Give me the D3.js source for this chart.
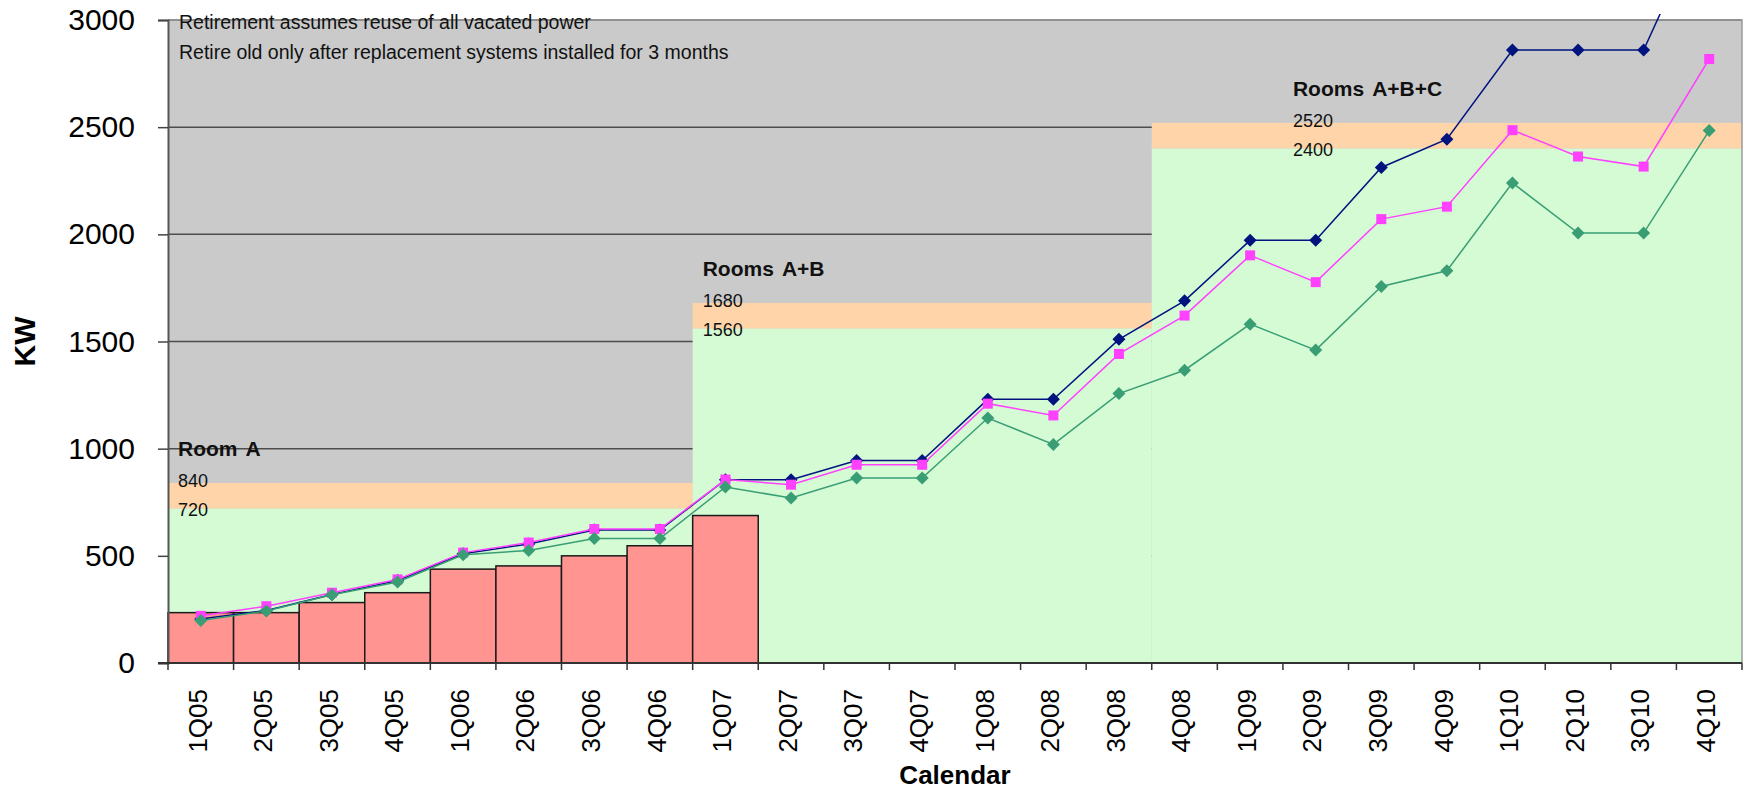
<!DOCTYPE html>
<html>
<head>
<meta charset="utf-8">
<script src="https://cdn.jsdelivr.net/npm/d3@7/dist/d3.min.js"></script>
<style>
  html, body { margin: 0; padding: 0; background: #ffffff; }
  svg { display: block; font-family: "Liberation Sans", Arial, sans-serif; }
</style>
</head>
<body>
<svg id="chart" width="1747" height="791"></svg>
<script>
// Quarterly calendar
const categories = ["1Q05","2Q05","3Q05","4Q05","1Q06","2Q06","3Q06","4Q06",
  "1Q07","2Q07","3Q07","4Q07","1Q08","2Q08","3Q08","4Q08",
  "1Q09","2Q09","3Q09","4Q09","1Q10","2Q10","3Q10","4Q10"];

// Installed load (KW), bars
const installedLoad = [235, 235, 282, 328, 438, 453, 500, 547, 688];

// Projected demand (KW): high, mid, low
const projectionHigh = [205, 245, 320, 385, 510, 555, 620, 620, 855, 855, 945, 945,
  1230, 1230, 1510, 1690, 1972, 1972, 2312, 2444, 2860, 2860, 2860, 3530];
const projectionMid = [220, 265, 328, 390, 515, 562, 625, 625, 856, 832, 925, 925,
  1210, 1155, 1442, 1621, 1902, 1777, 2071, 2129, 2486, 2363, 2316, 2818];
const projectionLow = [198, 243, 318, 378, 505, 525, 581, 581, 821, 770, 863, 863,
  1143, 1020, 1257, 1366, 1581, 1460, 1757, 1830, 2240, 2006, 2006, 2484];

// Room capacity phases (KW)
const roomNames = ["Room A", "Rooms A+B", "Rooms A+B+C"];
const roomFirstQuarter = ["1Q05", "1Q07", "4Q08"];
const roomLastQuarter = ["4Q06", "3Q08", "4Q10"];
const roomLowerLimit = [720, 1560, 2400];
const roomUpperLimit = [840, 1680, 2520];

// Y axis ticks
const yTicks = [0, 500, 1000, 1500, 2000, 2500, 3000];

const notes = [
  "Retirement assumes reuse of all vacated power",
  "Retire old only after replacement systems installed for 3 months"
];

// ---------------------------------------------------------------
const svg = d3.select("#chart");
const plotLeft = 168, plotRight = 1742, plotTop = 20, plotBottom = 663;

const x = d3.scaleBand().domain(categories).range([plotLeft, plotRight]).padding(0);
const y = d3.scaleLinear().domain([0, 3000]).range([plotBottom, plotTop]);
const cx = c => x(c) + x.bandwidth() / 2;

// plot background
svg.append("rect")
  .attr("x", plotLeft).attr("y", plotTop)
  .attr("width", plotRight - plotLeft).attr("height", plotBottom - plotTop)
  .attr("fill", "#cacaca");

// horizontal gridlines
svg.append("g").selectAll("line").data(yTicks.filter(t => t > 0)).join("line")
  .attr("x1", plotLeft).attr("x2", plotRight)
  .attr("y1", d => y(d)).attr("y2", d => y(d))
  .attr("stroke", "#4d4d4d").attr("stroke-width", 1.5);

// capacity bands: spare headroom (peach) and usable capacity (green)
const rooms = roomNames.map((name, i) => ({
  name,
  x0: x(roomFirstQuarter[i]),
  x1: x(roomLastQuarter[i]) + x.bandwidth(),
  lo: roomLowerLimit[i],
  hi: roomUpperLimit[i]
}));

const bands = svg.append("g");
bands.selectAll("rect.peach").data(rooms).join("rect")
  .attr("class", "peach")
  .attr("x", d => d.x0).attr("width", d => d.x1 - d.x0)
  .attr("y", d => y(d.hi)).attr("height", d => y(d.lo) - y(d.hi))
  .attr("fill", "#ffd4a8");
bands.selectAll("rect.green").data(rooms).join("rect")
  .attr("class", "green")
  .attr("x", d => d.x0).attr("width", d => d.x1 - d.x0)
  .attr("y", d => y(d.lo)).attr("height", d => y(0) - y(d.lo))
  .attr("fill", "#d4fbd4");

// plot border (top and right)
svg.append("path")
  .attr("d", `M${plotLeft},${plotTop}H${plotRight}V${plotBottom}`)
  .attr("fill", "none").attr("stroke", "#9a9a9a").attr("stroke-width", 1.5);

// installed load bars
svg.append("g").selectAll("rect").data(installedLoad).join("rect")
  .attr("x", (d, i) => x(categories[i]))
  .attr("width", x.bandwidth())
  .attr("y", d => y(d))
  .attr("height", d => y(0) - y(d))
  .attr("fill", "#ff9490")
  .attr("stroke", "#1a1a1a").attr("stroke-width", 1.5);

// notes at top of plot
svg.append("g").selectAll("text").data(notes).join("text")
  .attr("x", 179).attr("y", (d, i) => 29 + i * 30)
  .attr("font-size", 19.5).attr("fill", "#111")
  .text(d => d);

// room annotations
const labelQuarter = ["1Q05", "1Q07", "2Q09"];
const ann = svg.append("g");
rooms.forEach((r, i) => {
  const tx = x(labelQuarter[i]) + 10;
  ann.append("text").attr("x", tx).attr("y", y(r.hi) - 27)
    .attr("font-size", 21).attr("font-weight", "bold").attr("fill", "#111")
    .attr("word-spacing", 3)
    .text(r.name);
  ann.append("text").attr("x", tx).attr("y", y(r.hi) + 4)
    .attr("font-size", 18).attr("fill", "#111").text(r.hi);
  ann.append("text").attr("x", tx).attr("y", y(r.lo) + 7)
    .attr("font-size", 18).attr("fill", "#111").text(r.lo);
});

// projection lines, clipped just above the plot
svg.append("defs").append("clipPath").attr("id", "clip")
  .append("rect").attr("x", plotLeft).attr("y", 14)
  .attr("width", plotRight - plotLeft).attr("height", plotBottom - 14);

const line = d3.line().x((d, i) => cx(categories[i])).y(d => y(d));
const diamond = s => `M0,${-s}L${s},0L0,${s}L${-s},0Z`;

const series = [
  { values: projectionHigh, color: "#00137f", marker: "diamond" },
  { values: projectionMid, color: "#ff40ff", marker: "square" },
  { values: projectionLow, color: "#3a9e74", marker: "diamond" }
];

const lines = svg.append("g").attr("clip-path", "url(#clip)");
series.forEach(s => {
  const g = lines.append("g");
  g.append("path").datum(s.values)
    .attr("d", line).attr("fill", "none")
    .attr("stroke", s.color).attr("stroke-width", 1.5);
  const pts = g.selectAll("g.m").data(s.values).join("g")
    .attr("transform", (d, i) => `translate(${cx(categories[i])},${y(d)})`);
  if (s.marker === "diamond") {
    pts.append("path").attr("d", diamond(6.5)).attr("fill", s.color);
  } else {
    pts.append("rect").attr("x", -5).attr("y", -5)
      .attr("width", 10).attr("height", 10).attr("fill", s.color);
  }
});

// Y axis
const yAxis = d3.axisLeft(y).tickValues(yTicks).tickSize(10).tickPadding(23)
  .tickFormat(d3.format("d"));
const gy = svg.append("g").attr("transform", `translate(${plotLeft},0)`).call(yAxis);
gy.select(".domain").attr("stroke", "#555").attr("stroke-width", 2);
gy.selectAll(".tick line").attr("stroke", "#444").attr("stroke-width", 1.5);
gy.selectAll(".tick text").attr("font-size", 30).attr("fill", "#000")
  .attr("font-family", "Liberation Sans, Arial, sans-serif");

// X axis: labels centred on quarters, ticks on quarter boundaries
const xAxis = d3.axisBottom(x).tickSize(0).tickPadding(0);
const gx = svg.append("g").attr("transform", `translate(0,${plotBottom})`).call(xAxis);
gx.select(".domain").remove();
gx.selectAll(".tick text")
  .attr("font-size", 26).attr("fill", "#000")
  .attr("font-family", "Liberation Sans, Arial, sans-serif")
  .attr("text-anchor", "end")
  .attr("transform", "translate(0,26) rotate(-90)")
  .attr("x", 0).attr("y", 0).attr("dy", "0.22em");

svg.append("line")
  .attr("x1", plotLeft - 10).attr("x2", plotRight)
  .attr("y1", plotBottom).attr("y2", plotBottom)
  .attr("stroke", "#333").attr("stroke-width", 2);
svg.append("g").selectAll("line").data(categories.concat(["end"])).join("line")
  .attr("x1", (d, i) => plotLeft + i * x.bandwidth())
  .attr("x2", (d, i) => plotLeft + i * x.bandwidth())
  .attr("y1", plotBottom).attr("y2", plotBottom + 7)
  .attr("stroke", "#333").attr("stroke-width", 1.5);

// axis titles
svg.append("text")
  .attr("transform", `translate(35,${(plotTop + plotBottom) / 2}) rotate(-90)`)
  .attr("text-anchor", "middle")
  .attr("font-size", 30).attr("font-weight", "bold").attr("fill", "#000")
  .text("KW");
svg.append("text")
  .attr("x", (plotLeft + plotRight) / 2).attr("y", 784)
  .attr("text-anchor", "middle")
  .attr("font-size", 26).attr("font-weight", "bold").attr("fill", "#000")
  .text("Calendar");
</script>
</body>
</html>
